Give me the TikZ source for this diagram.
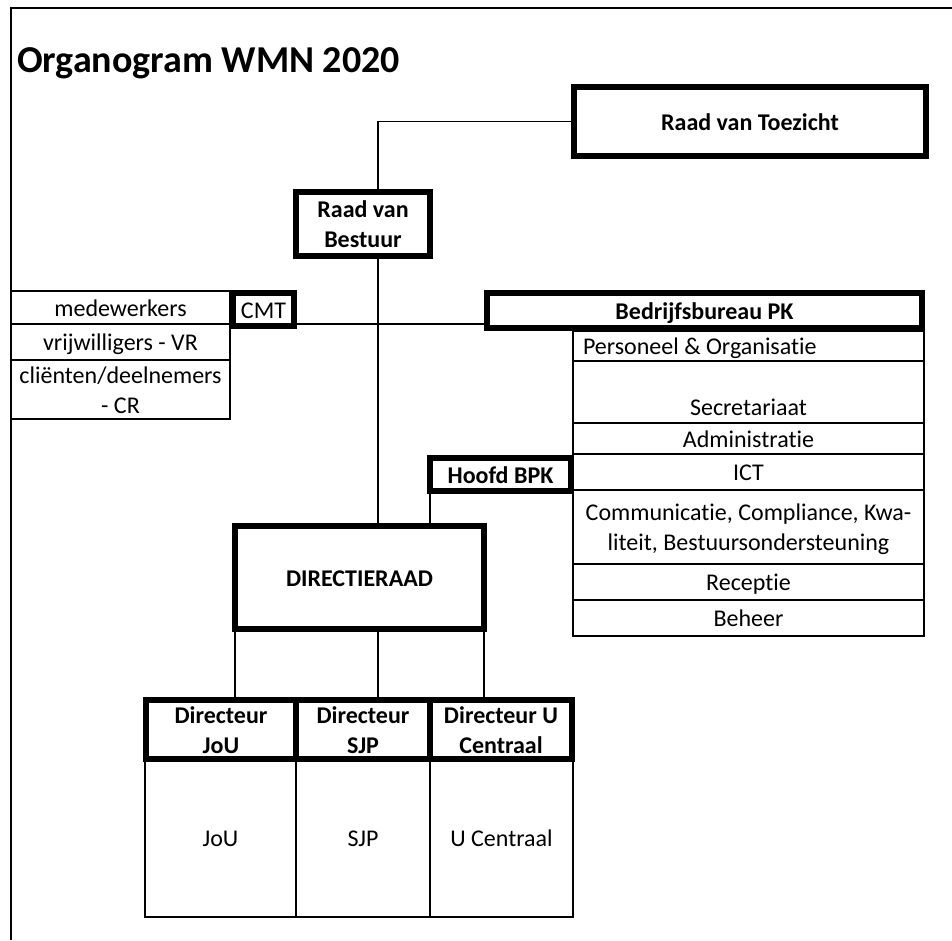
\documentclass[tikz,border=0pt]{standalone}
\usepackage{fontspec}
\setmainfont[Ligatures={NoCommon}]{Carlito}
\newcommand\ms{\rule[-5pt]{0pt}{27.5pt}}
\begin{document}
\begin{tikzpicture}[x=1pt,y=-1pt,
  every node/.style={font=\fontsize{24}{30}\selectfont, inner sep=0pt, outer sep=0pt, text=black},
  kbox/.style={draw, line width=6pt, font=\fontsize{24}{30}\selectfont\bfseries, align=center},
  tbox/.style={draw, line width=1.8pt, align=center},
  ln/.style={line width=1.8pt},
  framel/.style={line width=1.5pt}]
\useasboundingbox (0,0) rectangle (952,940);
% page frame
\coordinate (fbl) at (11,940);
\coordinate (ftl) at (11,8);
\coordinate (ftr) at (952,8);
\draw[framel] (fbl) -- (ftl) -- (ftr);
% title
\node[anchor=base west, font=\fontsize{38}{45}\selectfont\bfseries] (title) at (17,72) {Organogram WMN 2020};
% spine coordinate
\coordinate (sx) at (378,0);
% top boxes
\node[kbox, minimum width=352pt, minimum height=69pt] (rvt) at (750,121.5) {\ms Raad van Toezicht\ms};
\node[kbox, minimum width=134pt, minimum height=64pt] (rvb) at (363,224) {\ms Raad van\\Bestuur\ms};
% left group
\node[tbox, minimum width=219pt, minimum height=33pt] (med) at (120.5,307.5) {\ms medewerkers\ms};
\node[tbox, minimum width=219pt, minimum height=36pt] (vr) at (120.5,342) {\ms vrijwilligers - VR\ms};
\node[tbox, minimum width=219pt, minimum height=59pt] (cr) at (120.5,389.5) {\ms cliënten/deelnemers\\- CR\ms};
\node[kbox, font=\fontsize{24}{30}\selectfont, minimum width=61pt, minimum height=33pt] (cmt) at (263.5,309.5) {\ms CMT\ms};
% right group
\node[kbox, minimum width=435pt, minimum height=35pt] (bb) at (704.5,310.5) {\ms Bedrijfsbureau PK\ms};
\node[tbox, minimum width=351pt, minimum height=30pt] (po) at (748.5,346) {\makebox[331pt][l]{\ms Personeel \& Organisatie\ms}};
\node[tbox, minimum width=351pt, minimum height=62pt] (sec) at (748.5,392) {\ms\\Secretariaat\ms};
\node[tbox, minimum width=351pt, minimum height=31pt] (adm) at (748.5,438.5) {\ms Administratie\ms};
\node[tbox, minimum width=351pt, minimum height=36pt] (ict) at (748.5,472) {\ms ICT\ms};
\node[tbox, minimum width=351pt, minimum height=74pt] (com) at (748.5,527) {\ms Communicatie, Compliance, Kwa-\\liteit, Bestuursondersteuning\ms};
\node[tbox, minimum width=351pt, minimum height=36pt] (rec) at (748.5,582) {\ms Receptie\ms};
\node[tbox, minimum width=351pt, minimum height=36pt] (beh) at (748.5,618) {\ms Beheer\ms};
\node[kbox, minimum width=141pt, minimum height=33pt] (hb) at (500.5,474.5) {\ms Hoofd BPK\ms};
% directie
\node[kbox, minimum width=249pt, minimum height=103pt] (dr) at (359.5,577.5) {\ms DIRECTIERAAD\ms};
\node[tbox, minimum width=151pt, minimum height=158pt] (jou) at (220.5,838) {\ms JoU\ms};
\node[tbox, minimum width=134pt, minimum height=158pt] (sjp) at (363,838) {\ms SJP\ms};
\node[tbox, minimum width=143pt, minimum height=158pt] (uc) at (501.5,838) {\ms U Centraal\ms};
\node[kbox, minimum width=150pt, minimum height=59pt] (djou) at (221,729.5) {\ms Directeur\\JoU\ms};
\node[kbox, minimum width=134pt, minimum height=59pt] (dsjp) at (363,729.5) {\ms Directeur\\SJP\ms};
\node[kbox, minimum width=142pt, minimum height=59pt] (duc) at (501,729.5) {\ms Directeur U\\Centraal\ms};
% connectors
\draw[ln] (rvt.west) -| (rvb.north -| sx);
\draw[ln] (rvb.south -| sx) -- (dr.north -| sx);
\draw[ln] (cmt.east |- med.south) -- (bb.west |- med.south);
\draw[ln] (hb.south west) -- (hb.south west |- dr.north);
\draw[ln] (dr.south west) -- (dr.south west |- djou.north);
\draw[ln] (dr.south -| sx) -- (dsjp.north -| sx);
\draw[ln] (dr.south east) -- (dr.south east |- duc.north);
\end{tikzpicture}
\end{document}
